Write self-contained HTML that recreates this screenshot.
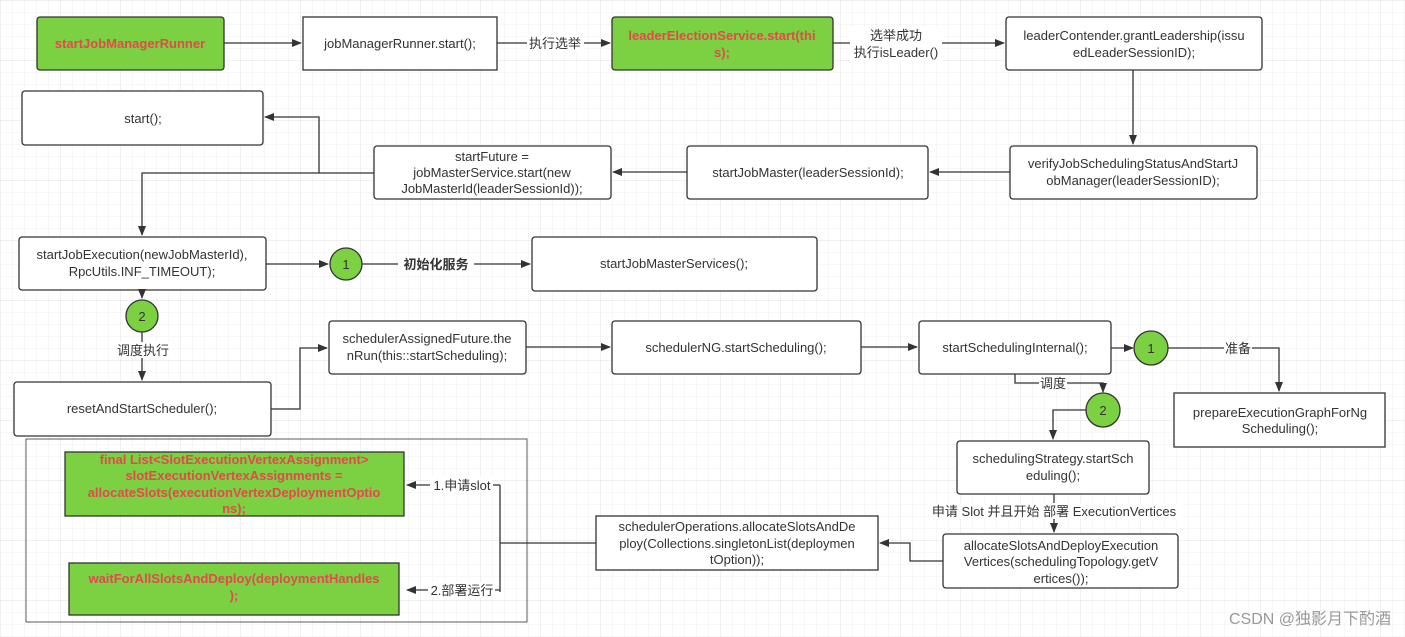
<!DOCTYPE html>
<html><head><meta charset="utf-8"><style>
html,body{margin:0;padding:0;background:#fff}
svg{display:block}
text{font-family:"Liberation Sans","Noto Sans CJK SC",sans-serif;font-size:13px;fill:#333}
.b{fill:#fff;stroke:#333;stroke-width:1.3}
.g{fill:#7bd142;stroke:#333;stroke-width:1.3}
.r{fill:#e5484d;font-weight:bold}
.l{fill:none;stroke:#333;stroke-width:1.3}
</style></head><body>
<svg width="1405" height="637" viewBox="0 0 1405 637" xmlns="http://www.w3.org/2000/svg">
<defs>
<pattern id="grid" width="12" height="12" patternUnits="userSpaceOnUse"><path d="M12 0H0V12" fill="none" stroke="#efefef" stroke-width="1"/></pattern>
<pattern id="grid2" width="60" height="60" patternUnits="userSpaceOnUse"><path d="M60 0H0V60" fill="none" stroke="#e2e2e2" stroke-width="1"/></pattern>
<marker id="a" markerWidth="10" markerHeight="10" refX="9" refY="5" orient="auto" markerUnits="userSpaceOnUse"><path d="M0,1 L10,5 L0,9 z" fill="#333"/></marker>
</defs>
<rect width="1405" height="637" fill="url(#grid)"/>
<rect width="1405" height="637" fill="url(#grid2)"/>
<g text-anchor="middle">
<!-- row1 -->
<rect class="g" x="37" y="17" width="187" height="53" rx="3"/><text class="r" x="130" y="48">startJobManagerRunner</text>
<rect class="b" x="303" y="17" width="194" height="53"/><text x="400" y="48">jobManagerRunner.start();</text>
<rect class="g" x="612" y="17" width="221" height="53" rx="3"/><text class="r" x="722" y="40">leaderElectionService.start(thi</text><text class="r" x="722" y="57">s);</text>
<rect class="b" x="1006" y="17" width="256" height="53" rx="3"/><text x="1134" y="40">leaderContender.grantLeadership(issu</text><text x="1134" y="57">edLeaderSessionID);</text>
<path class="l" d="M224 43H301" marker-end="url(#a)"/>
<path class="l" d="M497 43H610" marker-end="url(#a)"/>
<rect x="527" y="35" width="57" height="16" fill="#fff"/><text x="555" y="48">执行选举</text>
<path class="l" d="M833 43H1004" marker-end="url(#a)"/>
<rect x="850" y="27" width="92" height="34" fill="#fff"/><text x="896" y="40">选举成功</text><text x="896" y="57">执行isLeader()</text>
<path class="l" d="M1133 70V144" marker-end="url(#a)"/>
<!-- row2 -->
<rect class="b" x="22" y="91" width="241" height="54" rx="3"/><text x="143" y="123">start();</text>
<rect class="b" x="374" y="146" width="237" height="53" rx="3"/><text x="492" y="161">startFuture =</text><text x="492" y="177">jobMasterService.start(new</text><text x="492" y="193">JobMasterId(leaderSessionId));</text>
<rect class="b" x="687" y="146" width="241" height="53" rx="3"/><text x="808" y="177">startJobMaster(leaderSessionId);</text>
<rect class="b" x="1010" y="146" width="247" height="53" rx="3"/><text x="1133" y="168">verifyJobSchedulingStatusAndStartJ</text><text x="1133" y="185">obManager(leaderSessionID);</text>
<path class="l" d="M1010 172H930" marker-end="url(#a)"/>
<path class="l" d="M687 172H613" marker-end="url(#a)"/>
<path class="l" d="M374 173H142V235" marker-end="url(#a)"/>
<path class="l" d="M319 173V117H265" marker-end="url(#a)"/>
<!-- row3 -->
<rect class="b" x="19" y="237" width="247" height="53" rx="3"/><text x="142" y="259">startJobExecution(newJobMasterId),</text><text x="142" y="276">RpcUtils.INF_TIMEOUT);</text>
<path class="l" d="M266 264H328" marker-end="url(#a)"/>
<circle class="g" cx="346" cy="264" r="16"/><text x="346" y="269">1</text>
<path class="l" d="M362 264H530" marker-end="url(#a)"/>
<rect x="398" y="256" width="76" height="17" fill="#fff"/><text x="436" y="269" font-weight="bold">初始化服务</text>
<rect class="b" x="532" y="237" width="285" height="54" rx="3"/><text x="674" y="268">startJobMasterServices();</text>
<path class="l" d="M142 290V298" marker-end="url(#a)"/>
<circle class="g" cx="142" cy="316" r="16"/><text x="142" y="321">2</text>
<path class="l" d="M142 332V380" marker-end="url(#a)"/>
<rect x="114" y="342" width="58" height="16" fill="#fff"/><text x="143" y="355">调度执行</text>
<!-- row4 -->
<rect class="b" x="14" y="382" width="257" height="54" rx="3"/><text x="142" y="413">resetAndStartScheduler();</text>
<path class="l" d="M271 409H300V348H327" marker-end="url(#a)"/>
<rect class="b" x="329" y="321" width="197" height="53" rx="3"/><text x="427" y="343">schedulerAssignedFuture.the</text><text x="427" y="360">nRun(this::startScheduling);</text>
<path class="l" d="M526 347H610" marker-end="url(#a)"/>
<rect class="b" x="612" y="321" width="249" height="53" rx="3"/><text x="736" y="352">schedulerNG.startScheduling();</text>
<path class="l" d="M861 347H917" marker-end="url(#a)"/>
<rect class="b" x="919" y="321" width="192" height="53" rx="3"/><text x="1015" y="352">startSchedulingInternal();</text>
<path class="l" d="M1111 348H1133" marker-end="url(#a)"/>
<circle class="g" cx="1151" cy="348" r="17"/><text x="1151" y="353">1</text>
<path class="l" d="M1168 348H1279V391" marker-end="url(#a)"/>
<rect x="1224" y="340" width="28" height="16" fill="#fff"/><text x="1238" y="353">准备</text>
<rect class="b" x="1174" y="393" width="211" height="54"/><text x="1280" y="417">prepareExecutionGraphForNg</text><text x="1280" y="433">Scheduling();</text>
<path class="l" d="M1015 374V383H1103V392" marker-end="url(#a)"/>
<rect x="1039" y="375" width="28" height="16" fill="#fff"/><text x="1053" y="388">调度</text>
<circle class="g" cx="1103" cy="410" r="17"/><text x="1103" y="415">2</text>
<path class="l" d="M1086 410H1053V439" marker-end="url(#a)"/>
<rect class="b" x="957" y="441" width="192" height="53" rx="3"/><text x="1053" y="463">schedulingStrategy.startSch</text><text x="1053" y="480">eduling();</text>
<path class="l" d="M1054 494V532" marker-end="url(#a)"/>
<rect x="928" y="503" width="254" height="16" fill="#fff"/><text x="1054" y="516">申请 Slot 并且开始 部署 ExecutionVertices</text>
<rect class="b" x="943" y="534" width="235" height="54" rx="3"/><text x="1061" y="550">allocateSlotsAndDeployExecution</text><text x="1061" y="566">Vertices(schedulingTopology.getV</text><text x="1061" y="583">ertices());</text>
<path class="l" d="M943 561H910V543H880" marker-end="url(#a)"/>
<rect class="b" x="596" y="516" width="282" height="54"/><text x="737" y="531">schedulerOperations.allocateSlotsAndDe</text><text x="737" y="548">ploy(Collections.singletonList(deploymen</text><text x="737" y="564">tOption));</text>
<path class="l" d="M596 543H500"/>
<path class="l" d="M500 485V592"/>
<path class="l" d="M500 485H407" marker-end="url(#a)"/>
<path class="l" d="M500 590H407" marker-end="url(#a)"/>
<rect x="430" y="477" width="63" height="16" fill="#fff"/><text x="462" y="490">1.申请slot</text>
<rect x="428" y="582" width="67" height="16" fill="#fff"/><text x="462" y="595">2.部署运行</text>
<rect x="26" y="439" width="501" height="183" fill="none" stroke="#333" stroke-width="0.8"/>
<rect class="g" x="65" y="452" width="339" height="64"/><text class="r" x="234" y="464">final List&lt;SlotExecutionVertexAssignment&gt;</text><text class="r" x="234" y="480">slotExecutionVertexAssignments =</text><text class="r" x="234" y="497">allocateSlots(executionVertexDeploymentOptio</text><text class="r" x="234" y="513">ns);</text>
<rect class="g" x="69" y="563" width="330" height="52"/><text class="r" x="234" y="583">waitForAllSlotsAndDeploy(deploymentHandles</text><text class="r" x="234" y="600">);</text>
<text x="1310" y="624" style="font-size:16px;fill:#999">CSDN @独影月下酌酒</text>
</g>
</svg>
</body></html>
